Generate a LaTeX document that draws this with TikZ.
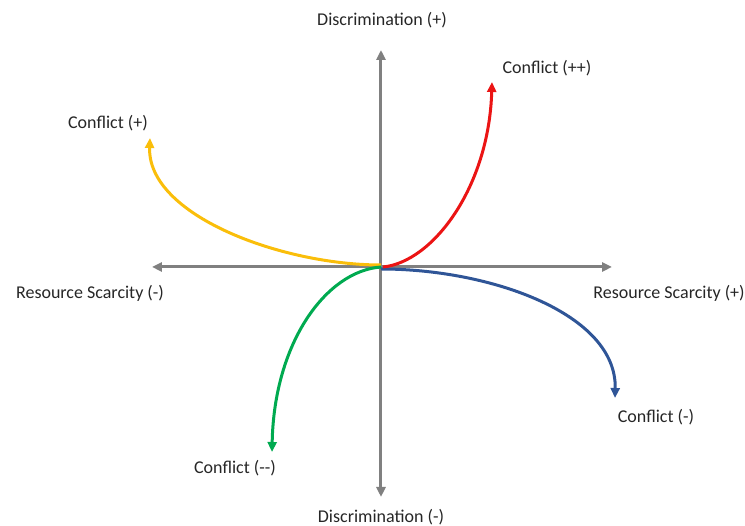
\documentclass[tikz,border=0pt]{standalone}
\usepackage{fontspec}
\setmainfont{Carlito}
\usepackage{tikz}
\usetikzlibrary{arrows.meta, positioning}
\definecolor{axisgray}{RGB}{128,128,128}
\definecolor{cred}{RGB}{235,20,20}
\definecolor{cyellow}{RGB}{250,190,10}
\definecolor{cblue}{RGB}{47,85,151}
\definecolor{cgreen}{RGB}{0,170,80}
\tikzset{
  lbl/.style={font=\fontsize{18}{21}\selectfont, text=black!85, inner sep=1pt},
  axis/.style={{Triangle[length=10pt,width=9pt]}-{Triangle[length=10pt,width=9pt]}, line width=3pt, color=axisgray},
  curve/.style={-{Triangle[length=10pt,width=9pt]}, line width=3pt}
}
\begin{document}
\begin{tikzpicture}[x=1pt, y=1pt]
  \useasboundingbox (-381,-259) rectangle (364,267);

  % Nodes
  \coordinate (o) at (0,0);
  \coordinate (top) at (0,217);
  \coordinate (bottom) at (0,-230);
  \coordinate (left) at (-229,0);
  \coordinate (right) at (231,0);
  \node[lbl] (dplus) at (1,247) {Discrimination (+)};
  \node[lbl] (dminus) at (0,-250) {Discrimination (-)};
  \node[lbl] (rminus) at (-291,-26) {Resource Scarcity (-)};
  \node[lbl] (rplus) at (288,-26) {Resource Scarcity (+)};
  \node[lbl] (cpp) at (166,199) {Conflict (++)};
  \node[lbl] (cp) at (-273,144) {Conflict (+)};
  \node[lbl] (cm) at (275,-150) {Conflict (-)};
  \node[lbl] (cmm) at (-146,-201) {Conflict ({-}{-})};
  \coordinate (endred) at (111,185);
  \coordinate (endyellow) at (-231,129);
  \coordinate (endblue) at (234,-131);
  \coordinate (endgreen) at (-109,-185);

  % Arrows
  \draw[axis] (bottom) -- (top);
  \draw[axis] (left) -- (right);
  \draw[curve, cyellow] ([yshift=2pt]o) .. controls (-100,2) and (-234,52) .. (endyellow);
  \draw[curve, cgreen] (o) .. controls (-55,-4) and (-107,-76) .. (endgreen);
  \draw[curve, cblue] ([yshift=-2pt]o) .. controls (110,-2) and (236,-47) .. (endblue);
  \draw[curve, cred] ([xshift=2pt]o) .. controls (52,5) and (108,80) .. (endred);

\end{tikzpicture}
\end{document}
